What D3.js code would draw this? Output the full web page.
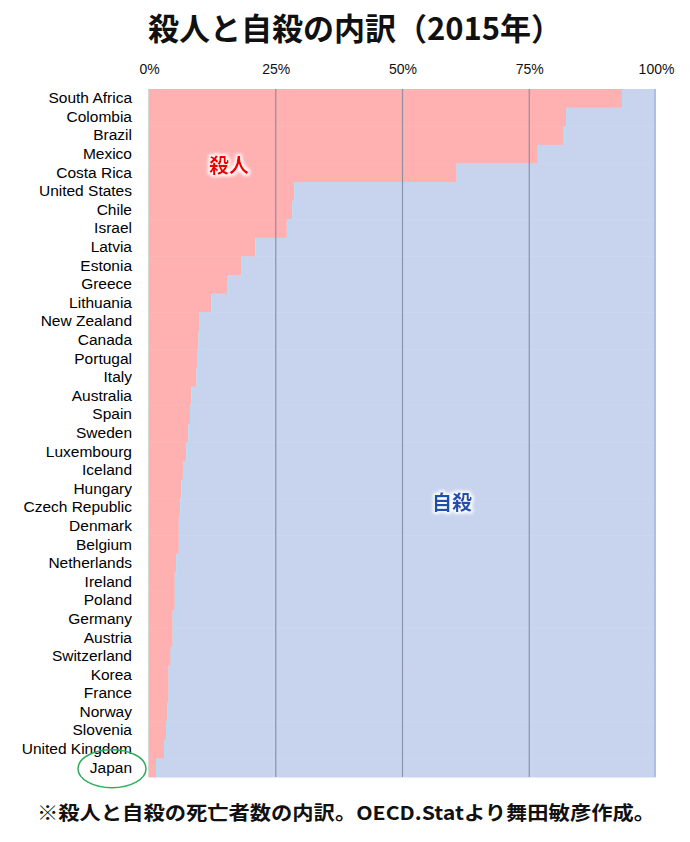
<!DOCTYPE html>
<html>
<head>
<meta charset="utf-8">
<script src="https://cdn.jsdelivr.net/npm/d3@7"></script>
<style>
  body { margin: 0; background: #fff; }
  svg { display: block; }
</style>
</head>
<body>
<script>
// 国名（上から下へ）
var countries = ["South Africa", "Colombia", "Brazil", "Mexico", "Costa Rica", "United States",
  "Chile", "Israel", "Latvia", "Estonia", "Greece", "Lithuania", "New Zealand", "Canada",
  "Portugal", "Italy", "Australia", "Spain", "Sweden", "Luxembourg", "Iceland", "Hungary",
  "Czech Republic", "Denmark", "Belgium", "Netherlands", "Ireland", "Poland", "Germany",
  "Austria", "Switzerland", "Korea", "France", "Norway", "Slovenia", "United Kingdom", "Japan"];
// 殺人の割合（%）
var homicide = [93.3, 82.3, 81.8, 76.7, 60.7, 28.7, 28.3, 27.2, 21.0, 18.3, 15.4, 12.3, 9.9, 9.8,
  9.5, 9.4, 8.4, 8.1, 7.8, 7.4, 6.7, 6.4, 6.2, 5.9, 5.9, 5.4, 5.1, 5.1, 4.7, 4.7, 4.3, 3.9,
  3.9, 3.6, 3.4, 3.0, 1.4];
// 自殺の割合（%）
var suicide = [6.7, 17.7, 18.2, 23.3, 39.3, 71.3, 71.7, 72.8, 79.0, 81.7, 84.6, 87.7, 90.1, 90.2,
  90.5, 90.6, 91.6, 91.9, 92.2, 92.6, 93.3, 93.6, 93.8, 94.1, 94.1, 94.6, 94.9, 94.9, 95.3, 95.3,
  95.7, 96.1, 96.1, 96.4, 96.6, 97.0, 98.6];
var tickValues = [0, 25, 50, 75, 100];

var W = 690, H = 842;
var margin = { top: 89, right: 34, bottom: 65, left: 149 };

var svg = d3.select("body").append("svg").attr("width", W).attr("height", H);

var defs = svg.append("defs");
var glow = defs.append("filter").attr("id", "glow").attr("x", "-20%").attr("y", "-30%")
  .attr("width", "140%").attr("height", "160%");
glow.append("feMorphology").attr("in", "SourceAlpha").attr("operator", "dilate").attr("radius", 1.5).attr("result", "d");
glow.append("feGaussianBlur").attr("in", "d").attr("stdDeviation", 1.5).attr("result", "b");
glow.append("feFlood").attr("flood-color", "#ffffff").attr("flood-opacity", 0.9);
glow.append("feComposite").attr("in2", "b").attr("operator", "in").attr("result", "w");
var fm = glow.append("feMerge");
fm.append("feMergeNode").attr("in", "w");
fm.append("feMergeNode").attr("in", "SourceGraphic");

var rows = countries.map(function (c, i) { return { name: c, h: homicide[i], s: suicide[i] }; });

var x = d3.scaleLinear().domain([0, 100]).range([margin.left, W - margin.right]);
var y = d3.scaleBand().domain(countries).range([margin.top, H - margin.bottom]).padding(0);

// 殺人（ピンク）
svg.append("g").selectAll("rect").data(rows).enter().append("rect")
  .attr("x", x(0))
  .attr("y", function (d) { return y(d.name); })
  .attr("width", function (d) { return x(d.h) - x(0); })
  .attr("height", y.bandwidth() + 0.5)
  .attr("fill", "#ffb1b1");

// 自殺（水色）
svg.append("g").selectAll("rect").data(rows).enter().append("rect")
  .attr("x", function (d) { return x(d.h); })
  .attr("y", function (d) { return y(d.name); })
  .attr("width", function (d) { return x(d.h + d.s) - x(d.h); })
  .attr("height", y.bandwidth() + 0.5)
  .attr("fill", "#c8d4ee");

// 境界の薄い水色の線
svg.append("g").selectAll("line").data(rows).enter().append("line")
  .attr("x1", function (d) { return x(d.h) + 1; })
  .attr("x2", function (d) { return x(d.h) + 1; })
  .attr("y1", function (d) { return y(d.name); })
  .attr("y2", function (d) { return y(d.name) + y.bandwidth(); })
  .attr("stroke", "#b3dcf6").attr("stroke-width", 2);

// 目盛線
svg.append("g").selectAll("line").data([25, 50, 75]).enter().append("line")
  .attr("x1", function (d) { return x(d); }).attr("x2", function (d) { return x(d); })
  .attr("y1", margin.top).attr("y2", H - margin.bottom)
  .attr("stroke", "#7d889e").attr("stroke-width", 1.2).attr("opacity", 0.85);
svg.append("line")
  .attr("x1", x(100) - 1).attr("x2", x(100) - 1)
  .attr("y1", margin.top).attr("y2", H - margin.bottom)
  .attr("stroke", "#aebde2").attr("stroke-width", 2);
svg.append("line")
  .attr("x1", x(0) - 0.5).attr("x2", x(0) - 0.5)
  .attr("y1", margin.top).attr("y2", H - margin.bottom)
  .attr("stroke", "#d8d8d8").attr("stroke-width", 1);

// 上の軸
var xAxis = svg.append("g")
  .attr("transform", "translate(0," + (margin.top - 12) + ")")
  .call(d3.axisTop(x).tickValues(tickValues).tickSize(0).tickFormat(function (d) { return d + "%"; }));
xAxis.select(".domain").remove();
xAxis.selectAll("text")
  .attr("font-family", "'Liberation Sans', Arial, sans-serif")
  .attr("font-size", 14).attr("fill", "#111");

// 国名
var yAxis = svg.append("g")
  .attr("transform", "translate(" + (margin.left - 17) + ",0)")
  .call(d3.axisLeft(y).tickSize(0).tickPadding(0));
yAxis.select(".domain").remove();
yAxis.selectAll("text")
  .attr("font-family", "'Liberation Sans', Arial, sans-serif")
  .attr("font-size", 15.5).attr("fill", "#000");

// 系列ラベル
svg.append("text").attr("x", 229).attr("y", 173).attr("text-anchor", "middle")
  .attr("font-family", "'Noto Sans CJK JP', sans-serif").attr("font-weight", "bold")
  .attr("font-size", 20).attr("fill", "#ee0000").attr("filter", "url(#glow)").text("殺人");
svg.append("text").attr("x", 452).attr("y", 510).attr("text-anchor", "middle")
  .attr("font-family", "'Noto Sans CJK JP', sans-serif").attr("font-weight", "bold")
  .attr("font-size", 20).attr("fill", "#1f4fae").attr("filter", "url(#glow)").text("自殺");

// 日本を囲む円
svg.append("ellipse")
  .attr("cx", 112).attr("cy", y("Japan") + y.bandwidth() / 2 + 1)
  .attr("rx", 34).attr("ry", 19)
  .attr("fill", "none").attr("stroke", "#2fae5a").attr("stroke-width", 1.5);

// タイトル
svg.append("text").attr("x", 355).attr("y", 40).attr("text-anchor", "middle")
  .attr("font-family", "'Noto Sans CJK JP', sans-serif").attr("font-weight", "bold")
  .attr("font-size", 31).attr("fill", "#111").text("殺人と自殺の内訳（2015年）");

// 注記
svg.append("text").attr("x", 37).attr("y", 820)
  .attr("font-family", "'Noto Sans CJK JP', sans-serif").attr("font-weight", "bold")
  .attr("font-size", 19).attr("fill", "#111")
  .attr("textLength", 618).attr("lengthAdjust", "spacingAndGlyphs")
  .text("※殺人と自殺の死亡者数の内訳。OECD.Statより舞田敏彦作成。");
</script>
</body>
</html>
